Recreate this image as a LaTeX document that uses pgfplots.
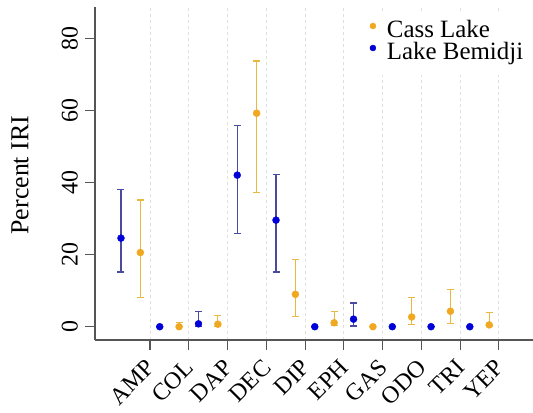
\documentclass[border=0pt]{standalone}
\usepackage{pgfplots}
\pgfplotsset{compat=1.18}
\usepackage{pgfplotstable}
\usepackage{fontspec}
\setmainfont{Liberation Serif}
\definecolor{orM}{HTML}{F0A820}
\definecolor{orE}{HTML}{E8B840}
\definecolor{blM}{HTML}{0000D8}
\definecolor{blE}{HTML}{4A4A9E}
\definecolor{axc}{HTML}{555555}
\newcommand{\tl}{\fontsize{24}{24}\selectfont}
\pgfplotstableread{
x y ep em
0.25 24.6 13.6 9.4
1.25 0 0 0
2.25 0.8 3.4 0.8
3.25 42.1 13.9 16.3
4.25 29.6 12.7 14.4
5.25 0 0 0
6.25 2.1 4.5 1.9
7.25 0 0 0
8.25 0 0 0
9.25 0 0 0
}\bemidji
\pgfplotstableread{
x y ep em
0.75 20.6 14.6 12.4
1.75 0 1.2 0
2.75 0.7 2.3 0.7
3.75 59.3 14.5 22.0
4.75 9.0 9.7 6.2
5.75 1.1 3.2 0.8
6.75 0 0 0
7.75 2.7 5.5 2.2
8.75 4.3 6.1 3.5
9.75 0.5 3.4 0.5
}\cass
\begin{document}
\begin{tikzpicture}
\path[use as bounding box] (-95bp,-73bp) rectangle (438bp,340bp);
\begin{axis}[
  at={(0,0)}, anchor=south west,
  scale only axis, width=438bp, height=333bp,
  xmin=-0.42, xmax=10.88, ymin=-3.69, ymax=88.8,
  axis x line=bottom, axis y line=left,
  axis line style={-, draw=axc, line width=1.2bp},
  tick align=outside, major tick length=10bp,
  tick style={draw=axc, line width=1.1bp},
  xtick={1,...,10},
  xticklabels={{\tl AMP},{\tl COL},{\tl DAP},{\tl DEC},{\tl DIP},{\tl EPH},{\tl GAS},{\tl ODO},{\tl TRI},{\tl YEP}},
  ytick={0,20,40,60,80},
  yticklabel={\tl\pgfmathprintnumber[assume math mode=true]{\tick}},
  xticklabel style={inner sep=0pt, xshift=-5bp, yshift=-8bp, rotate=45, anchor=north east},
  yticklabel style={inner sep=0pt, xshift=-7bp, rotate=90, anchor=south},
  xmajorgrids, grid style={dashed, gray!25, line width=0.8bp},
  ylabel={Percent IRI},
  ylabel style={at={(axis description cs:-0.171,0.495)}, anchor=center, font=\fontsize{26}{26}\selectfont},
  legend style={draw=none, fill=white, at={(0.614,0.988)}, anchor=north west,
    font=\fontsize{25}{25}\selectfont, inner xsep=3bp, inner ysep=10bp, outer sep=0pt,
    nodes={text height=17bp, text depth=5bp, inner sep=0pt},
    column sep=0pt, legend cell align=left},
  legend image code/.code={\path[draw=none,fill=none] (0bp,0bp) -- (20bp,0bp); \fill (6bp,6bp) circle (3bp);},
  clip=false,
]
\addplot+[only marks, mark=*, color=orM, mark options={fill=orM, draw=orM, mark size=3.5bp},
  error bars/.cd, y dir=both, y explicit,
  error bar style={draw=orE, line width=1.1bp},
  error mark options={draw=orE, line width=1.1bp, mark size=3.5bp, rotate=90}]
  table[x=x, y=y, y error plus=ep, y error minus=em]{\cass};
\addlegendentry{Cass Lake}
\addplot+[only marks, mark=*, color=blM, mark options={fill=blM, draw=blM, mark size=3.5bp},
  error bars/.cd, y dir=both, y explicit,
  error bar style={draw=blE, line width=1.1bp},
  error mark options={draw=blE, line width=1.1bp, mark size=3.5bp, rotate=90}]
  table[x=x, y=y, y error plus=ep, y error minus=em]{\bemidji};
\addlegendentry{Lake Bemidji}
\end{axis}
\end{tikzpicture}
\end{document}
